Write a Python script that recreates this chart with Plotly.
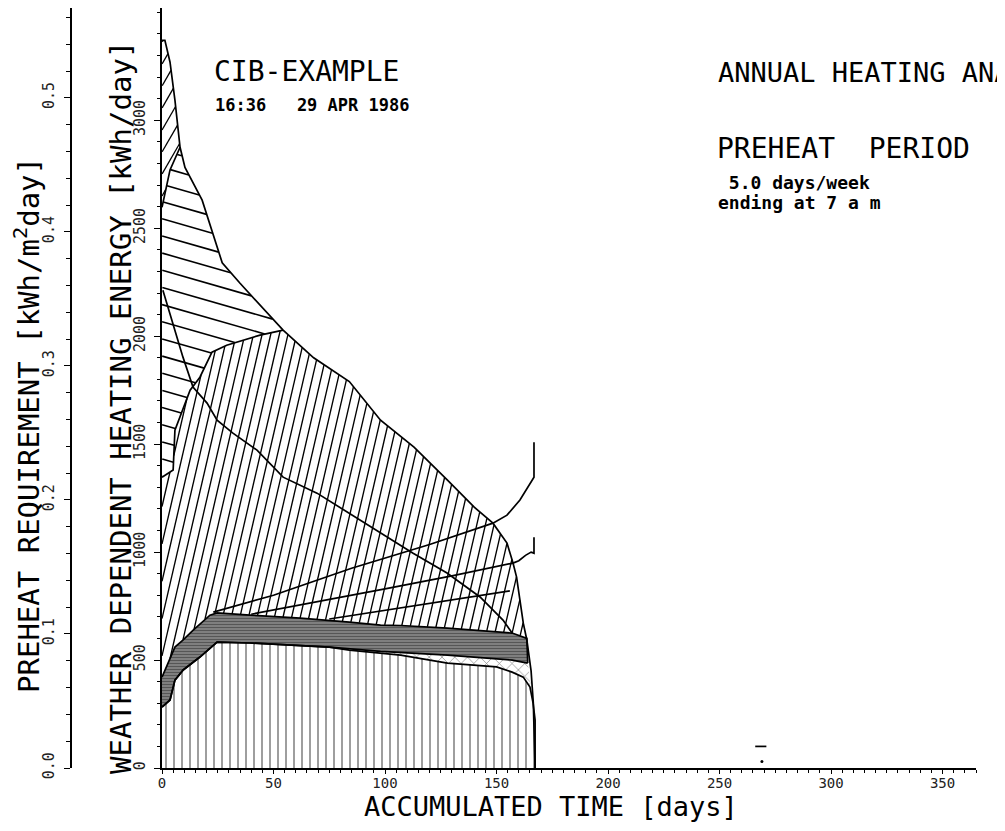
import numpy as np
import plotly.graph_objects as go

# ---------------- data (x: accumulated time [days], y: kWh/day) ----------------
total_days = [0, 1.3, 3.6, 5.8, 8.1, 10.3, 18, 27, 35, 54.3, 68, 84, 98, 113, 128, 140,
              148.4, 154.7, 157.4, 159, 160.5, 162, 163.6, 165.5, 166.5, 167.3]
total_kwh = [3370, 3370, 3269, 3093, 2875, 2782, 2630, 2340, 2245, 2028, 1900, 1790, 1611, 1486,
             1333, 1208, 1134, 1042, 949, 884, 778, 671, 593, 450, 300, 0]

mid_days = [0, 5, 5.8, 12.6, 17, 22.4, 29, 44, 54.3]
mid_kwh = [1347, 1380, 1565, 1750, 1810, 1926, 1958, 2005, 2028]

peak_days = [0, 3.6, 8.1]
peak_kwh = [2597, 2770, 2875]

band_top_days = [0, 5.8, 9.5, 14, 21.5, 24.7, 39.5, 62, 84, 98, 107, 128, 157, 163.6]
band_top_kwh = [421, 560, 593, 639, 708, 718, 708, 694, 676, 662, 660, 648, 625, 600]

band_bot_days = [0, 3.6, 5.8, 9.5, 17, 24.7, 39.5, 62, 75, 98, 128, 157, 164]
band_bot_kwh = [282, 315, 407, 454, 514, 583, 579, 569, 560, 540, 523, 500, 486]

base_days = [0, 3.6, 5.8, 9.5, 17, 24.7, 39.5, 62, 75, 84, 98, 107, 128, 150, 157, 162,
             165, 166.4, 167.3, 167.3]
base_kwh = [282, 315, 407, 454, 514, 583, 579, 569, 560, 546, 532, 523, 486, 468, 444, 421,
            375, 301, 222, 0]

cross_days = [0.4, 5.8, 9.4, 13.9, 20.2, 24.7, 31.8, 42.6, 54.3, 69.5, 98, 112.6, 127.8,
              142.6, 152.9, 157]
cross_kwh = [2213, 2028, 1903, 1764, 1690, 1611, 1551, 1472, 1347, 1273, 1090, 995, 903,
             792, 685, 625]

rise1_days = [23, 50, 85, 120, 148.4, 154.7, 160.5, 165, 166.8, 166.8]
rise1_kwh = [722, 800, 925, 1035, 1134, 1171, 1241, 1319, 1347, 1509]

rise2_days = [40, 70, 100, 130, 157.4, 160, 163, 165.5, 166.8, 166.8]
rise2_kwh = [712, 770, 830, 890, 949, 960, 985, 1000, 995, 1069]

rise3_days = [75, 100, 130, 156]
rise3_kwh = [690, 730, 775, 820]

speck_days = [266, 271]
speck_kwh = [100, 100]
dot_days = [269]
dot_kwh = [30]

x_ticks = [0, 50, 100, 150, 200, 250, 300, 350]
y_ticks = [0, 500, 1000, 1500, 2000, 2500, 3000]
y2_ticks = [0.0, 0.1, 0.2, 0.3, 0.4, 0.5]

# ---------------- layout geometry ----------------
W, H = 1005, 831
ML, MT, PW, PH = 12, 0, 956, 760
MR, MB = W - ML - PW, H - MT - PH
XDOM0 = (162 - 20) / PW
XMAX, YMAX, Y2MAX = 365, 3520, 0.567
SX = PW * (1 - XDOM0) / XMAX
SY = PH / YMAX


def ax(px):
    return (px - 20) / PW


def ay(py):
    return (768 - py) / PH


def hatch(lo_x, lo_y, hi_x, hi_y, xmin, xmax, angle, spacing):
    th = np.radians(angle)
    ux, uy = np.cos(th), np.sin(th)
    nx, ny = -uy, ux
    ymin, ymax = min(lo_y) * SY, max(hi_y) * SY
    X = np.array([xmin, xmin, xmax, xmax]) * SX
    Y = np.array([ymin, ymax, ymin, ymax])
    cv, tv = X * nx + Y * ny, X * ux + Y * uy
    t = np.arange(tv.min() - 1, tv.max() + 1, 0.4)
    ox, oy = [], []
    c = np.ceil(cv.min() / spacing) * spacing
    while c <= cv.max():
        xd = (c * nx + t * ux) / SX
        yd = (c * ny + t * uy) / SY
        ok = (xd >= xmin) & (xd <= xmax)
        ok &= (yd >= np.interp(xd, lo_x, lo_y)) & (yd <= np.interp(xd, hi_x, hi_y))
        if ok.any():
            idx = np.flatnonzero(np.diff(np.r_[0, ok.astype(int), 0]))
            for s, e in zip(idx[0::2], idx[1::2] - 1):
                if e > s:
                    ox += [round(float(xd[s]), 3), round(float(xd[e]), 3), None]
                    oy += [round(float(yd[s]), 2), round(float(yd[e]), 2), None]
        c += spacing
    return ox, oy


fig = go.Figure()

# bottom region: vertical hatch
fig.add_trace(go.Scatter(
    x=base_days + [0], y=base_kwh + [0], mode="lines", line=dict(width=0),
    fill="toself", fillcolor="white",
    fillpattern=dict(shape="|", size=8, solidity=0.19, fgcolor="black", bgcolor="white"),
    hoverinfo="skip", showlegend=False))

# thin cross-hatched band
zz_days = [d for d in band_bot_days if d >= 75]
zz_kwh = [k for d, k in zip(band_bot_days, band_bot_kwh) if d >= 75]
zb_days = [d for d in base_days if 75 <= d <= 166.4]
zb_kwh = [k for d, k in zip(base_days, base_kwh) if 75 <= d <= 166.4]
fig.add_trace(go.Scatter(
    x=zz_days + zb_days[::-1], y=zz_kwh + zb_kwh[::-1], mode="lines", line=dict(width=0),
    fill="toself", fillcolor="white",
    fillpattern=dict(shape="x", size=9, solidity=0.14, fgcolor="black", bgcolor="white"),
    hoverinfo="skip", showlegend=False))

# dark band: dense horizontal hatch
fig.add_trace(go.Scatter(
    x=band_top_days + band_bot_days[::-1], y=band_top_kwh + band_bot_kwh[::-1],
    mode="lines", line=dict(width=0), fill="toself", fillcolor="#8a8a8a",
    fillpattern=dict(shape="-", size=3, solidity=0.6, fgcolor="#111111", bgcolor="#9a9a9a"),
    hoverinfo="skip", showlegend=False))

# steep-hatch region
up_days = mid_days + [d for d in total_days if d > 54.3]
up_kwh = mid_kwh + [k for d, k in zip(total_days, total_kwh) if d > 54.3]
hx, hy = hatch(band_top_days, band_top_kwh, up_days, up_kwh, 0, 163.6, 77, 8.4)
fig.add_trace(go.Scatter(x=hx, y=hy, mode="lines", line=dict(color="black", width=1.35),
                         hoverinfo="skip", showlegend=False))

# top region: shallow hatch
top_hi_days = peak_days + [d for d in total_days if d > 8.1]
top_hi_kwh = peak_kwh + [k for d, k in zip(total_days, total_kwh) if d > 8.1]
hx, hy = hatch(mid_days, mid_kwh, top_hi_days, top_hi_kwh, 0, 54.3, -16, 16.5)
fig.add_trace(go.Scatter(x=hx, y=hy, mode="lines", line=dict(color="black", width=1.6),
                         hoverinfo="skip", showlegend=False))

# peak sliver
hx, hy = hatch(peak_days, peak_kwh, total_days, total_kwh, 0, 8.1, 60, 11)
fig.add_trace(go.Scatter(x=hx, y=hy, mode="lines", line=dict(color="black", width=1.3),
                         hoverinfo="skip", showlegend=False))

# outline curves
for xs, ys in [(total_days, total_kwh), (mid_days, mid_kwh), (peak_days, peak_kwh),
               (band_top_days + [band_bot_days[-1]], band_top_kwh + [band_bot_kwh[-1]]),
               (band_bot_days, band_bot_kwh), (base_days, base_kwh),
               (cross_days, cross_kwh), (rise1_days, rise1_kwh), (rise2_days, rise2_kwh),
               (rise3_days, rise3_kwh), (speck_days, speck_kwh)]:
    fig.add_trace(go.Scatter(x=xs, y=ys, mode="lines", line=dict(color="black", width=1.7),
                             hoverinfo="skip", showlegend=False))
fig.add_trace(go.Scatter(x=dot_days, y=dot_kwh, mode="markers",
                         marker=dict(color="black", size=3), hoverinfo="skip", showlegend=False))

# dummy trace for the preheat axis
fig.add_trace(go.Scatter(x=[None], y=[None], yaxis="y2", showlegend=False))

mono = "DejaVu Sans Mono, Liberation Mono, monospace"
tick_font = dict(family=mono, size=15, color="#222")

fig.update_layout(
    width=W, height=H, autosize=False,
    margin=dict(l=ML, r=MR, t=MT, b=MB),
    paper_bgcolor="white", plot_bgcolor="white",
    xaxis=dict(domain=[XDOM0, 1], range=[0, XMAX], showgrid=False, zeroline=False,
               showline=True, linecolor="black", linewidth=1.6,
               tickmode="array", tickvals=x_ticks, ticktext=[str(v) for v in x_ticks],
               ticks="outside", ticklen=4, tickcolor="black", tickwidth=1.2,
               ticklabelstandoff=-3,
               minor=dict(tickmode="array", tickvals=list(range(0, 366, 5)), ticks="outside",
                          ticklen=3, tickcolor="black"),
               tickfont=dict(family=mono, size=14, color="#222")),
    yaxis=dict(domain=[0, 1], range=[0, YMAX], showgrid=False, zeroline=False,
               showline=True, linecolor="black", linewidth=1.6,
               tickmode="array", tickvals=y_ticks, ticktext=[str(v) for v in y_ticks],
               ticks="outside", ticklen=6, tickcolor="black", tickwidth=1.2, tickangle=-90,
               ticklabelstandoff=3,
               minor=dict(tickmode="array", tickvals=list(range(0, 3501, 100)), ticks="outside",
                          ticklen=3, tickcolor="black"),
               tickfont=tick_font),
    yaxis2=dict(overlaying="y", anchor="free", position=ax(71), side="left",
                domain=[0, ay(42)], range=[0, Y2MAX], showgrid=False, zeroline=False,
                showline=True, linecolor="black", linewidth=1.6,
                tickmode="array", tickvals=y2_ticks, ticktext=["%.1f" % v for v in y2_ticks],
                ticks="outside", ticklen=6, tickcolor="black", tickwidth=1.2, tickangle=-90,
                ticklabelstandoff=4,
                minor=dict(tickmode="array", tickvals=[round(i * 0.02, 2) for i in range(29)],
                           ticks="outside", ticklen=4, tickcolor="black"),
                tickfont=tick_font),
    annotations=[
        dict(text="CIB-EXAMPLE", x=ax(212), y=ay(90), xanchor="left", yanchor="bottom",
             font=dict(family=mono, size=28, color="black")),
        dict(text="16:36\u00a0\u00a0\u00a029 APR 1986", x=ax(213), y=ay(93), xanchor="left",
             yanchor="top", font=dict(family=mono, size=17, color="black", weight="bold")),
        dict(text="ANNUAL HEATING ANALYSIS", x=ax(716), y=ay(90), xanchor="left",
             yanchor="bottom", font=dict(family=mono, size=27, color="black")),
        dict(text="PREHEAT\u00a0\u00a0PERIOD", x=ax(715), y=ay(167), xanchor="left",
             yanchor="bottom", font=dict(family=mono, size=28, color="black")),
        dict(text="\u00a05.0 days/week", x=ax(716), y=ay(170), xanchor="left", yanchor="top",
             font=dict(family=mono, size=18, color="black", weight="bold")),
        dict(text="ending at 7 a m", x=ax(716), y=ay(190), xanchor="left", yanchor="top",
             font=dict(family=mono, size=18, color="black", weight="bold")),
        dict(text="WEATHER DEPENDENT HEATING ENERGY [kWh/day]", textangle=-90,
             x=ax(121), y=ay(408), xanchor="center", yanchor="middle",
             font=dict(family=mono, size=29, color="black")),
        dict(text="PREHEAT REQUIREMENT [kWh/m<sup>2</sup>day]", textangle=-90,
             x=ax(27), y=ay(425), xanchor="center", yanchor="middle",
             font=dict(family=mono, size=29, color="black")),
        dict(text="ACCUMULATED TIME [days]", x=ax(551), y=ay(806),
             xanchor="center", yanchor="middle",
             font=dict(family=mono, size=27, color="black")),
    ],
)
for a in fig.layout.annotations:
    a.xref = "paper"
    a.yref = "paper"
    a.showarrow = False

fig.write_html("out.html")
